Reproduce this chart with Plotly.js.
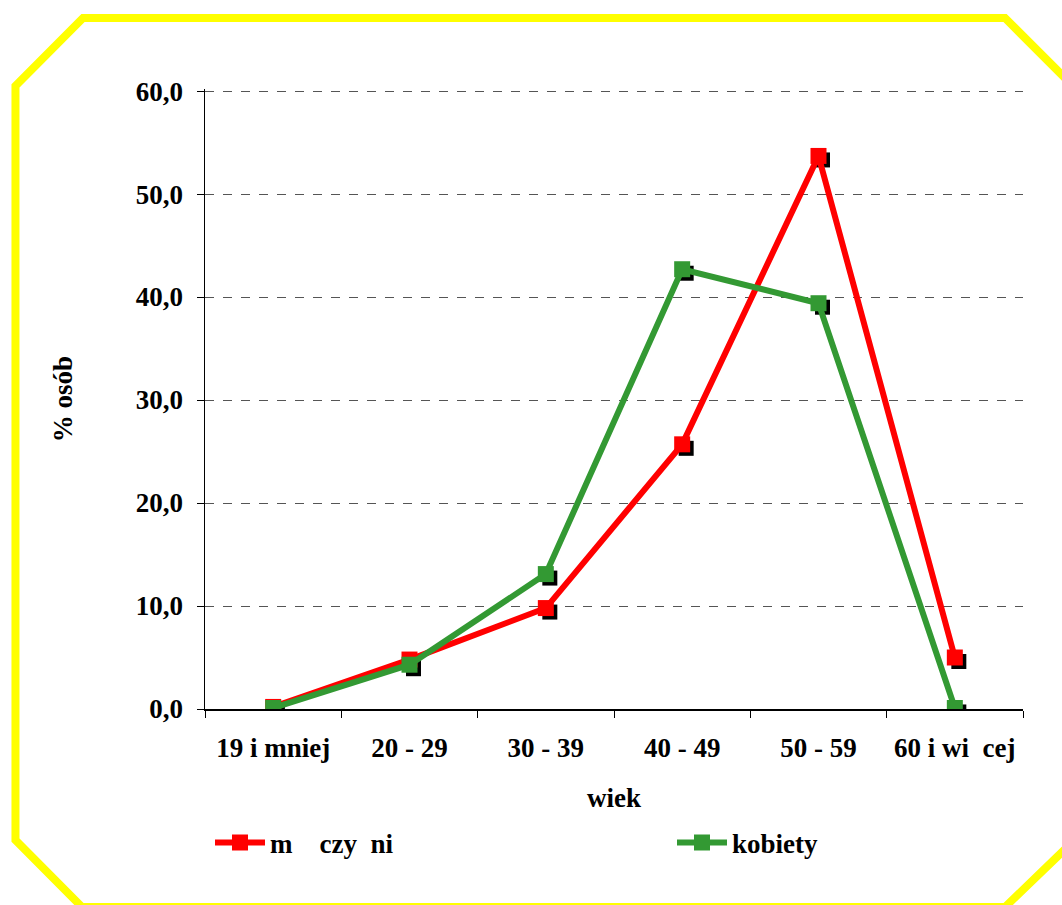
<!DOCTYPE html>
<html>
<head>
<meta charset="utf-8">
<script src="https://cdn.plot.ly/plotly-3.0.1.min.js"></script>
<style>
html,body{margin:0;padding:0;background:#fff;}
#chart{width:1062px;height:905px;}
</style>
</head>
<body>
<div id="chart"></div>
<script>
// ---- data ----
const categories = ["19 i mniej", "20 - 29", "30 - 39", "40 - 49", "50 - 59", "60 i wi  cej"];
const menName = "m    czy  ni";
const womenName = "kobiety";
const menValues = [0.2, 4.8, 9.8, 25.7, 53.7, 5.0];
const womenValues = [0.1, 4.3, 13.1, 42.7, 39.4, 0.1];
const yTicks = [0, 10, 20, 30, 40, 50, 60];
const yTitle = "% osób";
const xTitle = "wiek";

// ---- layout geometry ----
const W = 1062, H = 905;
const L = 205, R = 1023, T = 89, B = 709;
const pw = R - L, ph = B - T;
const yMax = 60.2;
const shadowPx = 4;
const dx = shadowPx * 6 / pw;
const dy = shadowPx * yMax / ph;

const FAM = "Times New Roman, Liberation Serif, DejaVu Serif, serif";
const txt = {family: FAM, size: 27, color: "#000", weight: "bold"};
const red = "#FF0000", green = "#339933";

function px(x) { return (x - L) / pw; }
function py(y) { return (B - y) / ph; }
const oct = [[83,18],[1005,18],[1085,98],[1085,830],[1005,907],[82,907],[15.5,840],[15.5,86]];
const octPath = "M " + oct.map(p => px(p[0]).toFixed(4) + "," + py(p[1]).toFixed(4)).join(" L ") + " Z";

function shadow(vals) {
  return {x: categories, y: vals, xaxis: "x", yaxis: "y", type: "scatter", mode: "markers",
    marker: {symbol: "square", size: 15, color: "#000"}, showlegend: false, hoverinfo: "skip"};
}
function series(name, vals, color, leg) {
  return {x: categories, y: vals, name: name, xaxis: "x2", yaxis: "y2", type: "scatter", mode: "lines+markers",
    legend: leg, line: {color: color, width: 6}, marker: {symbol: "square", size: 16, color: color}};
}

const data = [
  shadow(menValues), shadow(womenValues),
  series(menName, menValues, red, "legend"),
  series(womenName, womenValues, green, "legend2")
];

const legBase = {orientation: "h", xanchor: "left", y: py(843), yanchor: "middle",
  itemwidth: 50, font: txt, bgcolor: "rgba(0,0,0,0)"};

const layout = {
  width: W, height: H,
  margin: {l: L, r: W - R, t: T, b: H - B},
  paper_bgcolor: "#fff", plot_bgcolor: "#fff",
  separators: ", ",
  font: {family: FAM, size: 27, color: "#000"},
  showlegend: true,
  xaxis: {type: "category", categoryarray: categories, range: [-0.5 - dx, 5.5 - dx],
    showgrid: false, showline: false, showticklabels: false, ticks: "", zeroline: false},
  yaxis: {range: [0 + dy, yMax + dy], showgrid: false, showline: false, showticklabels: false, ticks: "", zeroline: false},
  xaxis2: {type: "category", categoryarray: categories, overlaying: "x", range: [-0.5, 5.5],
    showgrid: false, showline: true, linecolor: "#000", linewidth: 1.5,
    ticks: "outside", ticklen: 7, tickcolor: "#000", tickson: "boundaries",
    ticklabelstandoff: 14,
    tickfont: txt,
    title: {text: xTitle, standoff: 26, font: txt},
    anchor: "y2"},
  yaxis2: {overlaying: "y", range: [0, yMax], tickvals: yTicks, tickformat: ".1f",
    showgrid: true, gridcolor: "#555", griddash: "dash", gridwidth: 1,
    showline: true, linecolor: "#000", linewidth: 1.5, zeroline: false,
    ticks: "outside", ticklen: 7, tickcolor: "#000", ticklabelstandoff: 8,
    tickfont: txt,
    title: {text: yTitle, standoff: 55, font: txt},
    anchor: "x2"},
  legend: Object.assign({}, legBase, {x: px(210)}),
  legend2: Object.assign({}, legBase, {x: px(672)}),
  shapes: [{type: "path", xref: "paper", yref: "paper", path: octPath,
    line: {color: "#FFFF00", width: 8}, fillcolor: "rgba(0,0,0,0)", layer: "above"}]
};

Plotly.newPlot("chart", data, layout, {displayModeBar: false, staticPlot: true});
</script>
</body>
</html>
